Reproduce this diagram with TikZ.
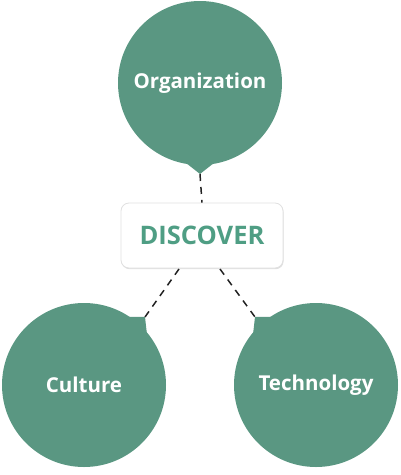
\documentclass[tikz,border=0pt]{standalone}
\usepackage{fontspec}
\setmainfont{Open Sans}
\usetikzlibrary{shadows}
\definecolor{circ}{HTML}{5A9782}
\definecolor{disc}{HTML}{4F9E84}
\definecolor{dashc}{HTML}{222222}
\tikzset{
  bubble/.style={circle, fill=circ, minimum size=164pt, inner sep=0pt, text=white, font=\bfseries\fontsize{20.5}{24}\selectfont},
  pointer/.style={fill=circ, draw=none},
  linkline/.style={dashc, line width=1.5pt, dash pattern=on 7pt off 6pt},
  mainbox/.style={draw=black!12, line width=0.8pt, fill=white, rounded corners=8pt, minimum width=162pt, minimum height=65pt, text=disc, font=\bfseries\fontsize{25.5}{28}\selectfont, drop shadow={shadow xshift=0.6pt, shadow yshift=-1.2pt, fill=black!25, opacity=0.5}}
}
\begin{document}
\begin{tikzpicture}[x=1pt,y=-1pt]
\useasboundingbox (0,0) rectangle (400,475);
% pointers
\fill[pointer] (185.8,162.8) -- (200,174) -- (214.2,162.8) -- cycle;
\fill[pointer] (147.1,335.5) -- (145,317) -- (126.3,316.9) -- cycle;
\fill[pointer] (252.9,335.5) -- (255,317) -- (273.7,316.9) -- cycle;
\node[bubble] (org) at (200,83) {Organization};
\node[bubble] (cul) at (84,385) {Culture};
\node[bubble] (tec) at (316,385) {Technology};
\node[mainbox] (box) at (202,235.5) {DISCOVER};
\coordinate (orgtip) at (200,174);
\coordinate (cultip) at (145,317);
\coordinate (tectip) at (255,317);
\coordinate (boxl) at (179,269);
\coordinate (boxr) at (220,269);
\draw[linkline] (orgtip) -- (box.north);
\draw[linkline] (boxl) -- (cultip);
\draw[linkline] (boxr) -- (tectip);
\end{tikzpicture}
\end{document}
